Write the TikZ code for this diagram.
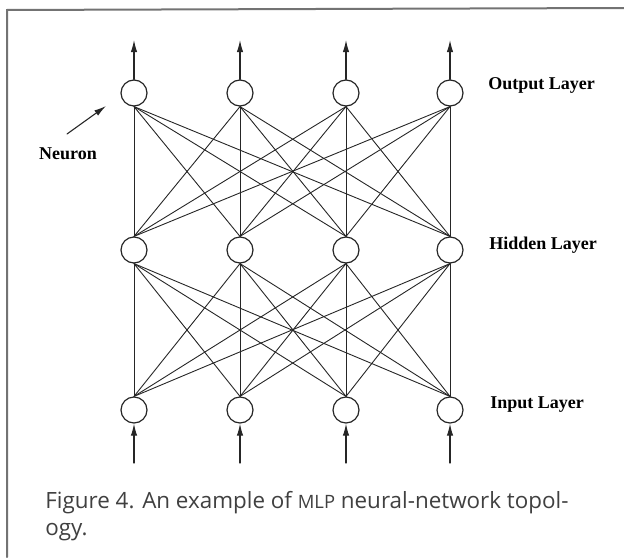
\documentclass[tikz,border=0pt]{standalone}
\usepackage{fontspec}
\setmainfont{Liberation Serif}
\newfontfamily\capfont{Open Sans}
\usetikzlibrary{arrows.meta}
\definecolor{framegray}{gray}{0.45}
\definecolor{capgray}{gray}{0.25}
\definecolor{inkgray}{gray}{0.15}
\tikzset{
  neuron/.style  = {circle, draw=inkgray, fill=white, line width=0.6pt,
                    minimum size=13pt, inner sep=0pt},
  synapse/.style = {draw=inkgray, line width=0.45pt},
  signal/.style  = {-{Latex[length=6pt, width=3.2pt]}, draw=inkgray, line width=0.55pt},
  laylab/.style  = {font=\bfseries\fontsize{9}{10}\selectfont, anchor=west, inner sep=0pt},
  caption/.style = {font=\capfont\fontsize{11.2}{13.5}\selectfont, text=capgray,
                    align=left, anchor=base west, inner sep=0pt},
}
\begin{document}
\begin{tikzpicture}[x=0.5pt, y=-0.5pt, line cap=round]
  \useasboundingbox (0,0) rectangle (624,557);
  % frame
  \draw[framegray, line width=1pt] (7,557) -- (7,10) -- (624,8);
  % three layers of neurons
  \foreach \i/\x in {1/134,2/240,3/346,4/450}{
    \node[neuron] (in\i)  at (\x,410) {};
    \node[neuron] (hid\i) at (\x,250) {};
    \node[neuron] (out\i) at (\x,93)  {};
    \coordinate (src\i) at (\x,463);
    \coordinate (dst\i) at (\x,40);
  }
  \foreach \i in {1,...,4}{\foreach \j in {1,...,4}{%
    \draw[synapse] (in\i.north) -- (hid\j.south);
    \draw[synapse] (hid\i.north) -- (out\j.south);}}
  \foreach \i in {1,...,4}{%
    \draw[signal] (src\i) -- (in\i.south);
    \draw[signal] (out\i.north) -- (dst\i);}
  % labels
  \node[laylab] (outlab) at (488,85)  {Output Layer};
  \node[laylab] (hidlab) at (489,245) {Hidden Layer};
  \node[laylab] (inlab)  at (490,405) {Input Layer};
  \node[laylab, anchor=center] (neulab) at (68,154) {Neuron};
  \coordinate (neutail) at (67,134);
  \coordinate (neutip) at (106,106);
  \draw[signal] (neutail) -- (neutip);
  \node[caption] (cap) at (45,535)
    {Figure 4. An example of {\fontsize{9.2}{13.5}\selectfont MLP} neural-network topol-\\ogy.};
\end{tikzpicture}
\end{document}
